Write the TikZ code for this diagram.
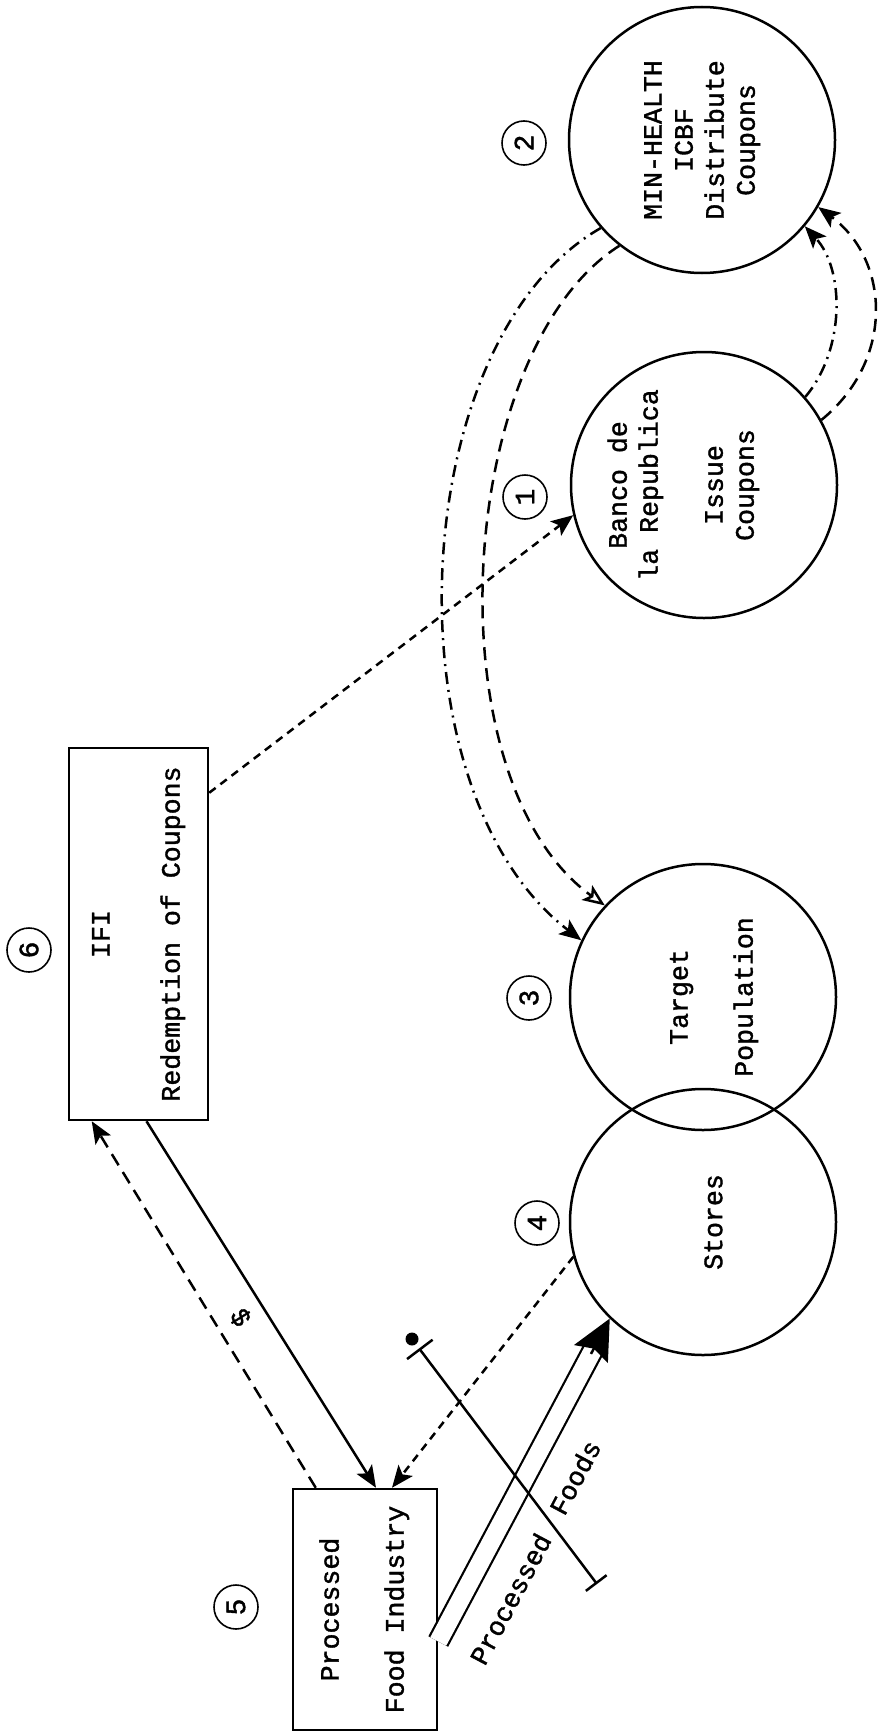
\documentclass[tikz,border=0pt]{standalone}
\usepackage{graphicx}
\usepackage{fontspec}
\setmainfont{Liberation Mono}[UprightFeatures={FakeBold=1.4}]
\usetikzlibrary{arrows.meta, calc}

\newcommand{\sidetext}[2][0pt]{\rotatebox{90}{\raisebox{#1}[\height][\depth]{\begin{tabular}{@{}c@{}}#2\end{tabular}}}}

\begin{document}
\begin{tikzpicture}[x=0.5pt, y=-0.5pt, line width=1.25pt,
        >={Stealth[length=11pt,width=9pt,inset=2.5pt]},
        every node/.style={font=\fontsize{13.3pt}{15.5pt}\selectfont},
        bubble/.style={circle, draw, minimum size=133pt, inner sep=0pt},
        agency/.style={rectangle, draw, inner sep=0pt},
        numlbl/.style={circle, draw, line width=0.8pt, minimum size=22pt, inner sep=0pt, rotate=90, font=\fontsize{14pt}{14pt}\selectfont},
        coupon/.style={dash pattern=on 6.5pt off 4pt},
        couponalt/.style={dash pattern=on 6pt off 3pt on 1pt off 3pt},
        claim/.style={dash pattern=on 4pt off 3pt}]
    \useasboundingbox (0,0) rectangle (879,1734);

    % agencies
    \node[bubble] (c1) at (704,485) {\sidetext[10pt]{Banco de\\la Republica\\[17pt]Issue\\Coupons}};
    \node[bubble] (c2) at (702,140) {\sidetext{MIN-HEALTH\\ICBF\\Distribute\\Coupons}};
    \node[bubble] (c3) at (703,997) {\sidetext[-5.5pt]{Target\\[17pt]Population}};
    \node[bubble] (c4) at (703,1222) {\sidetext[-6.5pt]{Stores}};
    \node[agency, minimum width=69.5pt, minimum height=186pt] (ifi) at (138.5,934) {\sidetext{IFI\\[19.5pt]Redemption of Coupons}};
    \node[agency, minimum width=72pt, minimum height=120.5pt] (pfi) at (365,1609.5) {\sidetext{Processed\\[17pt]Food Industry}};

    % step numbers
    \node[numlbl] (n1) at (525,497) {1};
    \node[numlbl] (n2) at (524,143) {2};
    \node[numlbl] (n3) at (529,998) {3};
    \node[numlbl] (n4) at (537,1223) {4};
    \node[numlbl] (n5) at (236,1607) {5};
    \node[numlbl] (n6) at (29,950) {6};

    % coupons: bank -> ministry -> population
    \draw[->, couponalt] (c1.41) .. controls (845,350) and (845,270) .. (c2.320);
    \draw[->, coupon] (c1.29) .. controls (895,360) and (890,260) .. (c2.330);
    \draw[->, couponalt] (c2.221) .. controls (405,340) and (385,790) .. (c3.155);
    \draw[-{Stealth[open,length=11pt,width=9pt,inset=2.5pt]}, coupon] (c2.232) .. controls (455,350) and (430,780) .. (c3.137);

    % redemption
    \draw[->, claim] ([yshift=-23pt]ifi.north east) -- (c1.193);
    \draw[->, coupon] ([xshift=12pt]pfi.north west) -- ([xshift=12pt]ifi.south west);
    \draw[->] ([xshift=4pt]ifi.south) -- node[sloped, below=3pt] {\$} ([xshift=5.5pt]pfi.north);
    \draw[->, claim] (c4.195) -- ([xshift=13.5pt]pfi.north);

    % processed foods
    \coordinate (pfout) at ([yshift=-16pt]pfi.east);
    \coordinate (stin) at (c4.226);
    \draw[double, double distance=9pt, line width=1.1pt, shorten >=16pt] (pfout) -- node[sloped, below=13pt, pos=0.34] {Processed\hspace{13pt}Foods} (stin);
    \draw[-{Stealth[length=20pt,width=19pt,inset=3pt]}] ($(stin)!20pt!(pfout)$) -- (stin);

    \node[circle, fill, inner sep=0pt, minimum size=6.5pt] (xdot) at (412,1339) {};
    \coordinate (xend) at (597,1584);
    \draw[{Bar[width=16pt]}-{Bar[width=13pt]}, shorten <=2pt] (xdot) -- (xend);
\end{tikzpicture}
\end{document}
